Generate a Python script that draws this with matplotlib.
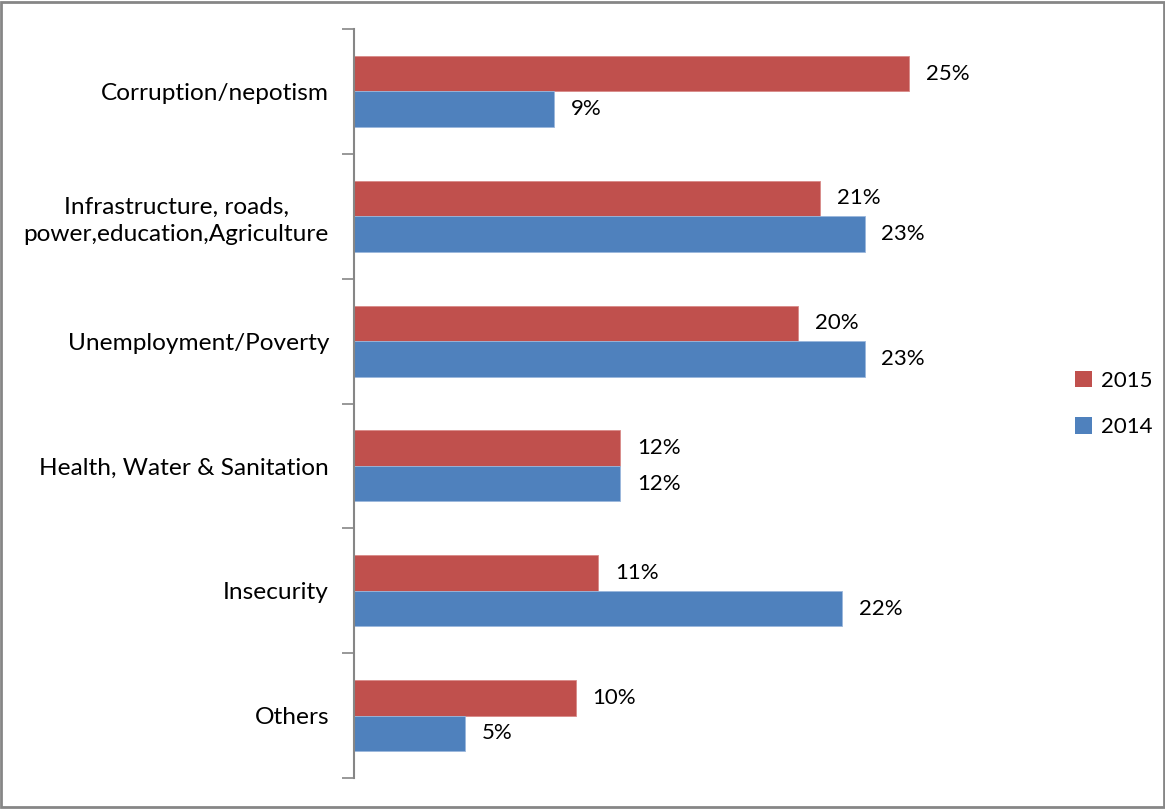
import matplotlib
matplotlib.use("Agg")
import matplotlib.pyplot as plt
from matplotlib.patches import Rectangle, Patch
import numpy as np

categories = [
    "Corruption/nepotism",
    "Infrastructure, roads,\npower,education,Agriculture",
    "Unemployment/Poverty",
    "Health, Water & Sanitation",
    "Insecurity",
    "Others",
]
vals_2015 = [25, 21, 20, 12, 11, 10]
vals_2014 = [9, 23, 23, 12, 22, 5]

red = "#C0504D"
blue = "#4F81BD"

plt.rcParams["font.family"] = ["Lato", "DejaVu Sans"]

fig = plt.figure(figsize=(11.65, 8.09), dpi=100)
ax = fig.add_axes([354 / 1165, 1 - 778 / 809, 666 / 1165, 749 / 809])

y = np.arange(len(categories))
h = 0.285
ax.barh(y - h / 2, vals_2015, height=h, color=red, edgecolor="#d98a88", linewidth=0.6, label="2015")
ax.barh(y + h / 2, vals_2014, height=h, color=blue, edgecolor="#9bb7dc", linewidth=0.6, label="2014")

for yi, v in zip(y, vals_2015):
    ax.text(v + 0.75, yi - h / 2, f"{v}%", va="center", ha="left", fontsize=16)
for yi, v in zip(y, vals_2014):
    ax.text(v + 0.75, yi + h / 2, f"{v}%", va="center", ha="left", fontsize=16)

ax.set_xlim(0, 30)
ax.set_ylim(len(categories) - 0.5, -0.5)

# boundaries get the tick marks, centres get the labels
ax.set_yticks(np.arange(len(categories) + 1) - 0.5)
ax.set_yticklabels([])
ax.tick_params(axis="y", which="major", length=9, width=1.2, color="#868686", direction="out")
ax.set_yticks(y, minor=True)
ax.set_yticklabels(categories, minor=True, fontsize=17.6, ha="right",
                   multialignment="center", linespacing=1.35)
ax.tick_params(axis="y", which="minor", length=0, pad=18)

ax.set_xticks([])
for s in ["top", "right", "bottom"]:
    ax.spines[s].set_visible(False)
ax.spines["left"].set_color("#868686")
ax.spines["left"].set_linewidth(1.5)

handles = [Patch(facecolor=red, label="2015"), Patch(facecolor=blue, label="2014")]
fig.legend(handles=handles, loc="center left", bbox_to_anchor=(1055 / 1165, 1 - 404 / 809),
           frameon=False, fontsize=16, handlelength=0.75, handleheight=0.75,
           handletextpad=0.4, labelspacing=1.2)

fig.patches.append(Rectangle((0.001, 0.002), 0.998, 0.996, transform=fig.transFigure,
                             fill=False, edgecolor="#868686", linewidth=2))

fig.savefig("out.png", dpi=100)
